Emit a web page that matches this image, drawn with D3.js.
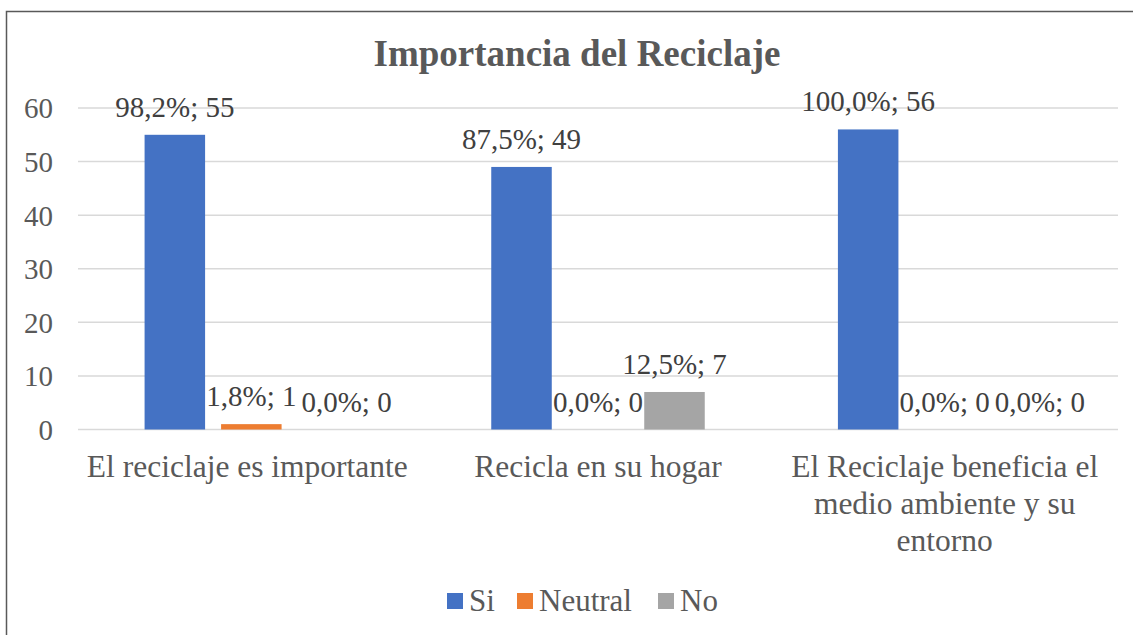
<!DOCTYPE html>
<html>
<head>
<meta charset="utf-8">
<script src="https://cdn.jsdelivr.net/npm/d3@7"></script>
<style>
  html, body { margin: 0; padding: 0; background: #fff; }
</style>
</head>
<body>
<div id="chart"></div>
<script>
const categories = [
  'El reciclaje es importante',
  'Recicla en su hogar',
  'El Reciclaje beneficia el medio ambiente y su entorno'
];
const categoryLines = [
  ['El reciclaje es importante'],
  ['Recicla en su hogar'],
  ['El Reciclaje beneficia el', 'medio ambiente y su', 'entorno']
];
const seriesNames = ['Si', 'Neutral', 'No'];
const siValues = [55, 49, 56];
const neutralValues = [1, 0, 0];
const noValues = [0, 7, 0];
const siPct = ['98,2%', '87,5%', '100,0%'];
const neutralPct = ['1,8%', '0,0%', '0,0%'];
const noPct = ['0,0%', '12,5%', '0,0%'];
const yTicks = [0, 10, 20, 30, 40, 50, 60];

const FONT = '"Liberation Serif", "Times New Roman", Times, serif';

const colors = d3.scaleOrdinal()
  .domain(seriesNames)
  .range(['#4472C4', '#ED7D31', '#A5A5A5']);

const width = 1133, height = 635;
const plot = { left: 78, right: 1118, top: 108, bottom: 429.5 };

const svg = d3.select('#chart')
  .append('svg')
  .attr('width', width)
  .attr('height', height);

// chart frame (only left and top edges are visible in the crop)
svg.append('path')
  .attr('d', `M6.5,${height} V11.5 H${width}`)
  .attr('fill', 'none')
  .attr('stroke', '#595959')
  .attr('stroke-width', 1.5);

svg.append('text')
  .attr('x', 577)
  .attr('y', 66)
  .attr('text-anchor', 'middle')
  .style('font-family', FONT)
  .style('font-size', '37px')
  .style('font-weight', 'bold')
  .attr('fill', '#595959')
  .text('Importancia del Reciclaje');

const x0 = d3.scaleBand()
  .domain(categories)
  .range([plot.left, plot.right]);

const groupW = 213.5;
const x1 = d3.scaleBand()
  .domain(seriesNames)
  .range([-groupW / 2, groupW / 2])
  .paddingInner(0.209);

const y = d3.scaleLinear()
  .domain([0, 60])
  .range([plot.bottom, plot.top]);

// gridlines
svg.append('g')
  .selectAll('line')
  .data(yTicks)
  .join('line')
  .attr('x1', plot.left)
  .attr('x2', plot.right)
  .attr('y1', d => y(d))
  .attr('y2', d => y(d))
  .attr('stroke', '#d9d9d9')
  .attr('stroke-width', 1.5);

// y axis labels
const yAxis = svg.append('g')
  .attr('transform', `translate(${plot.left - 25},0)`)
  .call(d3.axisLeft(y).tickValues(yTicks).tickSize(0).tickPadding(0));
yAxis.select('.domain').remove();
yAxis.selectAll('text')
  .style('font-family', FONT)
  .style('font-size', '29px')
  .attr('fill', '#595959')
  .attr('dy', '0.34em');

const rows = categories.map((c, i) => ({
  cat: c,
  values: [
    { key: 'Si', value: siValues[i], pct: siPct[i] },
    { key: 'Neutral', value: neutralValues[i], pct: neutralPct[i] },
    { key: 'No', value: noValues[i], pct: noPct[i] }
  ]
}));

const groups = svg.append('g')
  .selectAll('g')
  .data(rows)
  .join('g')
  .attr('transform', d => `translate(${x0(d.cat) + x0.bandwidth() / 2},0)`);

groups.selectAll('rect')
  .data(d => d.values)
  .join('rect')
  .attr('x', d => x1(d.key))
  .attr('width', x1.bandwidth())
  .attr('y', d => y(d.value))
  .attr('height', d => y(0) - y(d.value))
  .attr('fill', d => colors(d.key));

// data labels, nudged right when they collide with a neighbour
groups.each(function (d) {
  const g = d3.select(this);
  let prev = null;
  d.values.forEach(v => {
    const t = g.append('text')
      .attr('x', x1(v.key) + x1.bandwidth() / 2)
      .attr('y', y(v.value) - 18)
      .attr('text-anchor', 'middle')
      .style('font-family', FONT)
      .style('font-size', '29px')
      .attr('fill', '#404040')
      .text(`${v.pct}; ${v.value}`);
    const b = t.node().getBBox();
    if (prev && b.x < prev.x + prev.width + 5 &&
        b.y < prev.y + prev.height && prev.y < b.y + b.height) {
      const shift = prev.x + prev.width + 5 - b.x;
      t.attr('x', +t.attr('x') + shift);
    }
    prev = t.node().getBBox();
  });
});

// category labels
svg.append('g')
  .selectAll('text')
  .data(categories)
  .join('text')
  .attr('x', d => x0(d) + x0.bandwidth() / 2)
  .attr('y', 477)
  .attr('text-anchor', 'middle')
  .style('font-family', FONT)
  .style('font-size', '31.5px')
  .attr('fill', '#595959')
  .each(function (d, i) {
    const t = d3.select(this);
    categoryLines[i].forEach((line, j) => {
      t.append('tspan')
        .attr('x', x0(d) + x0.bandwidth() / 2 - (i === 0 ? 4 : 0))
        .attr('dy', j === 0 ? 0 : 37)
        .text(line);
    });
  });

// legend
const legendX = [447, 517, 658];
const legend = svg.append('g');
seriesNames.forEach((s, i) => {
  legend.append('rect')
    .attr('x', legendX[i])
    .attr('y', 593)
    .attr('width', 16)
    .attr('height', 16)
    .attr('fill', colors(s));
  legend.append('text')
    .attr('x', legendX[i] + 22)
    .attr('y', 611)
    .style('font-family', FONT)
    .style('font-size', '31px')
    .attr('fill', '#595959')
    .text(s);
});
</script>
</body>
</html>
